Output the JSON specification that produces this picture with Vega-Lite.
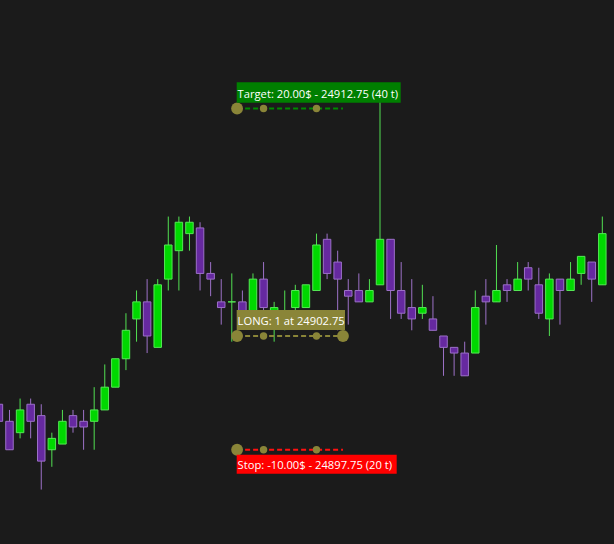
{
  "$schema": "https://vega.github.io/schema/vega-lite/v6.json",
  "width": 614,
  "height": 544,
  "autosize": {"type": "fit", "contains": "padding"},
  "padding": 0,
  "background": "#1b1b1b",
  "config": {"view": {"stroke": null}, "scale": {"continuousPadding": 0}},
  "datasets": {
    "bars": [
      {"i": 0, "o": 24899.75, "h": 24900.0, "l": 24898.75, "c": 24899.0},
      {"i": 1, "o": 24899.0, "h": 24899.5, "l": 24897.75, "c": 24897.75},
      {"i": 2, "o": 24898.5, "h": 24900.0, "l": 24898.25, "c": 24899.5},
      {"i": 3, "o": 24899.75, "h": 24900.0, "l": 24898.25, "c": 24899.0},
      {"i": 4, "o": 24899.25, "h": 24899.75, "l": 24896.0, "c": 24897.25},
      {"i": 5, "o": 24897.75, "h": 24898.5, "l": 24897.0, "c": 24898.25},
      {"i": 6, "o": 24898.0, "h": 24899.5, "l": 24898.0, "c": 24899.0},
      {"i": 7, "o": 24899.25, "h": 24899.5, "l": 24898.5, "c": 24898.75},
      {"i": 8, "o": 24899.0, "h": 24899.5, "l": 24897.75, "c": 24898.75},
      {"i": 9, "o": 24899.0, "h": 24900.5, "l": 24897.75, "c": 24899.5},
      {"i": 10, "o": 24899.5, "h": 24901.5, "l": 24899.5, "c": 24900.5},
      {"i": 11, "o": 24900.5, "h": 24901.75, "l": 24900.5, "c": 24901.75},
      {"i": 12, "o": 24901.75, "h": 24903.75, "l": 24901.25, "c": 24903.0},
      {"i": 13, "o": 24903.5, "h": 24904.75, "l": 24902.5, "c": 24904.25},
      {"i": 14, "o": 24904.25, "h": 24905.25, "l": 24902.0, "c": 24902.75},
      {"i": 15, "o": 24902.25, "h": 24905.25, "l": 24902.25, "c": 24905.0},
      {"i": 16, "o": 24905.25, "h": 24908.0, "l": 24904.75, "c": 24906.75},
      {"i": 17, "o": 24906.5, "h": 24908.0, "l": 24904.75, "c": 24907.75},
      {"i": 18, "o": 24907.25, "h": 24908.0, "l": 24906.5, "c": 24907.75},
      {"i": 19, "o": 24907.5, "h": 24907.75, "l": 24904.75, "c": 24905.5},
      {"i": 20, "o": 24905.5, "h": 24906.0, "l": 24904.5, "c": 24905.25},
      {"i": 21, "o": 24904.25, "h": 24905.25, "l": 24903.25, "c": 24904.0},
      {"i": 22, "o": 24904.25, "h": 24905.5, "l": 24902.5, "c": 24904.25},
      {"i": 23, "o": 24904.25, "h": 24904.75, "l": 24903.25, "c": 24903.75},
      {"i": 24, "o": 24903.5, "h": 24905.5, "l": 24903.25, "c": 24905.25},
      {"i": 25, "o": 24905.25, "h": 24906.0, "l": 24903.5, "c": 24904.0},
      {"i": 26, "o": 24903.25, "h": 24904.25, "l": 24902.5, "c": 24904.0},
      {"i": 27, "o": 24903.25, "h": 24904.75, "l": 24903.0, "c": 24903.75},
      {"i": 28, "o": 24904.0, "h": 24905.0, "l": 24903.75, "c": 24904.75},
      {"i": 29, "o": 24904.0, "h": 24905.0, "l": 24904.0, "c": 24905.0},
      {"i": 30, "o": 24904.75, "h": 24907.25, "l": 24904.75, "c": 24906.75},
      {"i": 31, "o": 24907.0, "h": 24907.25, "l": 24905.25, "c": 24905.5},
      {"i": 32, "o": 24906.0, "h": 24906.5, "l": 24903.0, "c": 24905.25},
      {"i": 33, "o": 24904.75, "h": 24905.25, "l": 24903.25, "c": 24904.5},
      {"i": 34, "o": 24904.75, "h": 24905.5, "l": 24904.25, "c": 24904.25},
      {"i": 35, "o": 24904.25, "h": 24905.25, "l": 24904.25, "c": 24904.75},
      {"i": 36, "o": 24905.0, "h": 24913.25, "l": 24905.0, "c": 24907.0},
      {"i": 37, "o": 24907.0, "h": 24907.0, "l": 24903.5, "c": 24904.75},
      {"i": 38, "o": 24904.75, "h": 24906.0, "l": 24903.5, "c": 24903.75},
      {"i": 39, "o": 24904.0, "h": 24905.25, "l": 24903.0, "c": 24903.5},
      {"i": 40, "o": 24903.75, "h": 24905.0, "l": 24903.5, "c": 24904.0},
      {"i": 41, "o": 24903.5, "h": 24904.5, "l": 24903.0, "c": 24903.0},
      {"i": 42, "o": 24902.75, "h": 24902.75, "l": 24901.0, "c": 24902.25},
      {"i": 43, "o": 24902.25, "h": 24902.25, "l": 24901.0, "c": 24902.0},
      {"i": 44, "o": 24902.0, "h": 24902.5, "l": 24901.0, "c": 24901.0},
      {"i": 45, "o": 24902.0, "h": 24904.75, "l": 24902.0, "c": 24904.0},
      {"i": 46, "o": 24904.5, "h": 24905.25, "l": 24903.25, "c": 24904.25},
      {"i": 47, "o": 24904.25, "h": 24906.75, "l": 24904.25, "c": 24904.75},
      {"i": 48, "o": 24905.0, "h": 24905.25, "l": 24904.25, "c": 24904.75},
      {"i": 49, "o": 24904.75, "h": 24906.0, "l": 24904.75, "c": 24905.25},
      {"i": 50, "o": 24905.75, "h": 24906.0, "l": 24904.75, "c": 24905.25},
      {"i": 51, "o": 24905.0, "h": 24905.75, "l": 24903.5, "c": 24903.75},
      {"i": 52, "o": 24903.5, "h": 24905.5, "l": 24902.75, "c": 24905.25},
      {"i": 53, "o": 24905.25, "h": 24905.25, "l": 24903.25, "c": 24904.75},
      {"i": 54, "o": 24904.75, "h": 24906.0, "l": 24904.75, "c": 24905.25},
      {"i": 55, "o": 24905.5, "h": 24906.25, "l": 24905.0, "c": 24906.25},
      {"i": 56, "o": 24906.0, "h": 24906.0, "l": 24904.25, "c": 24905.25},
      {"i": 57, "o": 24905.0, "h": 24908.0, "l": 24905.0, "c": 24907.25}
    ],
    "orders": [
      {"name": "Target", "price": 24912.75, "from": 22.5, "mid1": 25, "mid2": 30, "to": 32.5, "label": "Target: 20.00$ - 24912.75 (40 t)"},
      {"name": "Entry", "price": 24902.75, "from": 22.5, "mid1": 25, "mid2": 30, "to": 32.5, "label": "LONG: 1 at 24902.75"},
      {"name": "Stop", "price": 24897.75, "from": 22.5, "mid1": 25, "mid2": 30, "to": 32.5, "label": "Stop: -10.00$ - 24897.75 (20 t)"}
    ]
  },
  "layer": [
    {
      "mark": {"type": "rule", "color": "#2e2e2e", "strokeWidth": 1},
      "encoding": {
        "y": {"datum": 24913.75, "type": "quantitative", "scale": {"domain": [24893.607, 24917.519], "nice": false, "zero": false, "padding": 0}, "axis": null}
      }
    },
    {
      "mark": {"type": "rule", "color": "#2a2a2a", "strokeWidth": 1.5},
      "encoding": {
        "x": {"datum": 44.95, "type": "quantitative", "scale": {"domain": [0.1026, 58.104], "nice": false, "zero": false, "padding": 0}, "axis": null}
      }
    },
    {
      "data": {"name": "bars"},
      "mark": {"type": "rule", "strokeWidth": 1, "clip": true},
      "encoding": {
        "x": {"field": "i", "type": "quantitative", "scale": {"domain": [0.1026, 58.104], "nice": false, "zero": false, "padding": 0}, "axis": null},
        "y": {"field": "l", "type": "quantitative", "scale": {"domain": [24893.607, 24917.519], "nice": false, "zero": false, "padding": 0}, "axis": null},
        "y2": {"field": "h"},
        "color": {"condition": {"test": "datum.c >= datum.o", "value": "#52e052"}, "value": "#9d72c8"}
      }
    },
    {
      "data": {"name": "bars"},
      "mark": {"type": "bar", "width": 7.5, "strokeWidth": 1, "clip": true},
      "encoding": {
        "x": {"field": "i", "type": "quantitative", "scale": {"domain": [0.1026, 58.104], "nice": false, "zero": false, "padding": 0}, "axis": null},
        "y": {"field": "o", "type": "quantitative", "scale": {"domain": [24893.607, 24917.519], "nice": false, "zero": false, "padding": 0}, "axis": null},
        "y2": {"field": "c"},
        "fill": {"condition": {"test": "datum.c >= datum.o", "value": "#00d800"}, "value": "#6629a0"},
        "stroke": {"condition": {"test": "datum.c >= datum.o", "value": "#55e855"}, "value": "#9c70c8"}
      }
    },
    {
      "data": {"name": "orders"},
      "mark": {"type": "rule", "strokeWidth": 2, "strokeDash": [5, 3]},
      "encoding": {
        "x": {"field": "from", "type": "quantitative", "scale": {"domain": [0.1026, 58.104], "nice": false, "zero": false, "padding": 0}, "axis": null},
        "x2": {"field": "to"},
        "y": {"field": "price", "type": "quantitative", "scale": {"domain": [24893.607, 24917.519], "nice": false, "zero": false, "padding": 0}, "axis": null},
        "color": {"field": "name", "type": "nominal", "scale": {"domain": ["Target", "Entry", "Stop"], "range": ["#008a00", "#8a8538", "#ff1010"]}, "legend": null}
      }
    },
    {
      "data": {"name": "orders"},
      "mark": {"type": "circle", "size": 140, "color": "#8a8538", "opacity": 1},
      "encoding": {
        "x": {"field": "from", "type": "quantitative", "scale": {"domain": [0.1026, 58.104], "nice": false, "zero": false, "padding": 0}, "axis": null},
        "y": {"field": "price", "type": "quantitative", "scale": {"domain": [24893.607, 24917.519], "nice": false, "zero": false, "padding": 0}, "axis": null}
      }
    },
    {
      "data": {"name": "orders"},
      "mark": {"type": "circle", "size": 55, "color": "#8a8538", "opacity": 1},
      "encoding": {
        "x": {"field": "mid1", "type": "quantitative", "scale": {"domain": [0.1026, 58.104], "nice": false, "zero": false, "padding": 0}, "axis": null},
        "y": {"field": "price", "type": "quantitative", "scale": {"domain": [24893.607, 24917.519], "nice": false, "zero": false, "padding": 0}, "axis": null}
      }
    },
    {
      "data": {"name": "orders"},
      "mark": {"type": "circle", "size": 55, "color": "#8a8538", "opacity": 1},
      "encoding": {
        "x": {"field": "mid2", "type": "quantitative", "scale": {"domain": [0.1026, 58.104], "nice": false, "zero": false, "padding": 0}, "axis": null},
        "y": {"field": "price", "type": "quantitative", "scale": {"domain": [24893.607, 24917.519], "nice": false, "zero": false, "padding": 0}, "axis": null}
      }
    },
    {
      "data": {"name": "orders"},
      "transform": [{"filter": "datum.name == 'Entry'"}],
      "mark": {"type": "circle", "size": 140, "color": "#8a8538", "opacity": 1},
      "encoding": {
        "x": {"field": "to", "type": "quantitative", "scale": {"domain": [0.1026, 58.104], "nice": false, "zero": false, "padding": 0}, "axis": null},
        "y": {"field": "price", "type": "quantitative", "scale": {"domain": [24893.607, 24917.519], "nice": false, "zero": false, "padding": 0}, "axis": null}
      }
    },
    {
      "data": {"name": "orders"},
      "transform": [{"filter": "datum.name == 'Target'"}],
      "mark": {"type": "rect", "color": "#007f00", "xOffset": -0.4, "x2Offset": 163.6, "yOffset": -26.3, "y2Offset": -5.7},
      "encoding": {
        "x": {"field": "from", "type": "quantitative", "scale": {"domain": [0.1026, 58.104], "nice": false, "zero": false, "padding": 0}, "axis": null},
        "x2": {"field": "from"},
        "y": {"field": "price", "type": "quantitative", "scale": {"domain": [24893.607, 24917.519], "nice": false, "zero": false, "padding": 0}, "axis": null},
        "y2": {"field": "price"}
      }
    },
    {
      "data": {"name": "orders"},
      "transform": [{"filter": "datum.name == 'Entry'"}],
      "mark": {"type": "rect", "color": "#8a8538", "xOffset": -0.4, "x2Offset": 107.9, "yOffset": -26, "y2Offset": -6},
      "encoding": {
        "x": {"field": "from", "type": "quantitative", "scale": {"domain": [0.1026, 58.104], "nice": false, "zero": false, "padding": 0}, "axis": null},
        "x2": {"field": "from"},
        "y": {"field": "price", "type": "quantitative", "scale": {"domain": [24893.607, 24917.519], "nice": false, "zero": false, "padding": 0}, "axis": null},
        "y2": {"field": "price"}
      }
    },
    {
      "data": {"name": "orders"},
      "transform": [{"filter": "datum.name == 'Stop'"}],
      "mark": {"type": "rect", "color": "#ff0000", "xOffset": -0.4, "x2Offset": 159.6, "yOffset": 5, "y2Offset": 24},
      "encoding": {
        "x": {"field": "from", "type": "quantitative", "scale": {"domain": [0.1026, 58.104], "nice": false, "zero": false, "padding": 0}, "axis": null},
        "x2": {"field": "from"},
        "y": {"field": "price", "type": "quantitative", "scale": {"domain": [24893.607, 24917.519], "nice": false, "zero": false, "padding": 0}, "axis": null},
        "y2": {"field": "price"}
      }
    },
    {
      "data": {"name": "orders"},
      "transform": [{"filter": "datum.name != 'Stop'"}],
      "mark": {"type": "text", "align": "left", "baseline": "alphabetic", "dx": 0.5, "dy": -10.7, "font": "Open Sans", "fontSize": 11.2, "color": "#ffffff"},
      "encoding": {
        "x": {"field": "from", "type": "quantitative", "scale": {"domain": [0.1026, 58.104], "nice": false, "zero": false, "padding": 0}, "axis": null},
        "y": {"field": "price", "type": "quantitative", "scale": {"domain": [24893.607, 24917.519], "nice": false, "zero": false, "padding": 0}, "axis": null},
        "text": {"field": "label"}
      }
    },
    {
      "data": {"name": "orders"},
      "transform": [{"filter": "datum.name == 'Stop'"}],
      "mark": {"type": "text", "align": "left", "baseline": "alphabetic", "dx": 0.5, "dy": 19.3, "font": "Open Sans", "fontSize": 11.2, "color": "#ffffff"},
      "encoding": {
        "x": {"field": "from", "type": "quantitative", "scale": {"domain": [0.1026, 58.104], "nice": false, "zero": false, "padding": 0}, "axis": null},
        "y": {"field": "price", "type": "quantitative", "scale": {"domain": [24893.607, 24917.519], "nice": false, "zero": false, "padding": 0}, "axis": null},
        "text": {"field": "label"}
      }
    }
  ]
}
